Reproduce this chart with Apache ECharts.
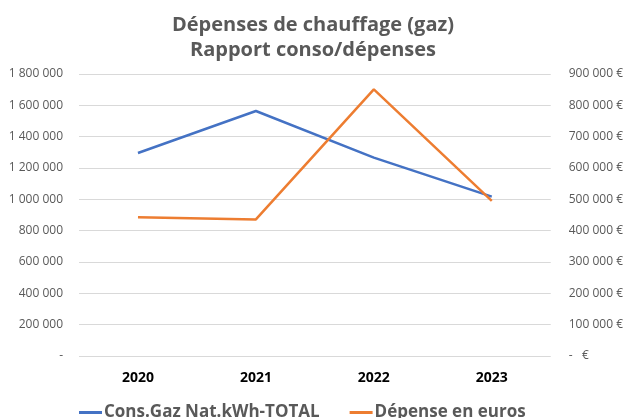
<!DOCTYPE html>
<html>
<head>
<meta charset="utf-8">
<title>Dépenses de chauffage</title>
<script src="https://cdn.jsdelivr.net/npm/echarts@6/dist/echarts.min.js"></script>
<style>
  html, body { margin: 0; padding: 0; background: #fff; }
  #main { width: 626px; height: 418px; }
</style>
</head>
<body>
<div id="main"></div>
<script>
var years = ['2020', '2021', '2022', '2023'];
var consoKwh = [1296000, 1564000, 1266000, 1017000];
var depenseEuros = [443000, 436000, 851000, 495000];

function fmtNum(v) {
  if (v === 0) return '-';
  return String(v).replace(/\B(?=(\d{3})+(?!\d))/g, ' ');
}

var chart = echarts.init(document.getElementById('main'));
chart.setOption({
  animation: false,
  textStyle: { fontFamily: 'Open Sans' },
  title: {
    text: 'Dépenses de chauffage (gaz)\nRapport conso/dépenses',
    left: 'center',
    top: 8,
    textStyle: { fontSize: 20, fontWeight: 'bold', color: '#595959', lineHeight: 25 }
  },
  legend: {
    bottom: -8,
    left: 74,
    itemWidth: 23,
    itemGap: 30,
    icon: 'rect',
    itemHeight: 3,
    textStyle: { fontSize: 17, color: '#595959', fontWeight: 'bold', padding: [0, 0, 0, -3] },
    data: ['Cons.Gaz Nat.kWh-TOTAL', 'Dépense en euros']
  },
  grid: { left: 79, right: 73, top: 74, bottom: 62 },
  xAxis: {
    type: 'category',
    data: years,
    axisLine: { show: false },
    axisTick: { show: false },
    axisLabel: { color: '#000', fontWeight: 'bold', fontSize: 14, margin: 15 }
  },
  yAxis: [{
    type: 'value',
    min: 0, max: 1800000, interval: 200000,
    axisLabel: { color: '#595959', fontSize: 12, margin: 16, formatter: fmtNum },
    splitLine: { lineStyle: { color: '#d9d9d9' } }
  }, {
    type: 'value',
    min: 0, max: 900000, interval: 100000,
    axisLabel: {
      color: '#595959', fontSize: 12, margin: 18,
      formatter: function (v) { return v === 0 ? '-   €' : fmtNum(v) + ' €'; }
    },
    splitLine: { show: false }
  }],
  series: [{
    name: 'Cons.Gaz Nat.kWh-TOTAL',
    type: 'line',
    data: consoKwh,
    yAxisIndex: 0,
    symbol: 'none',
    color: '#4472C4',
    lineStyle: { width: 2.5 }
  }, {
    name: 'Dépense en euros',
    type: 'line',
    data: depenseEuros,
    yAxisIndex: 1,
    symbol: 'none',
    color: '#ED7D31',
    lineStyle: { width: 2.5 }
  }]
});
</script>
</body>
</html>
